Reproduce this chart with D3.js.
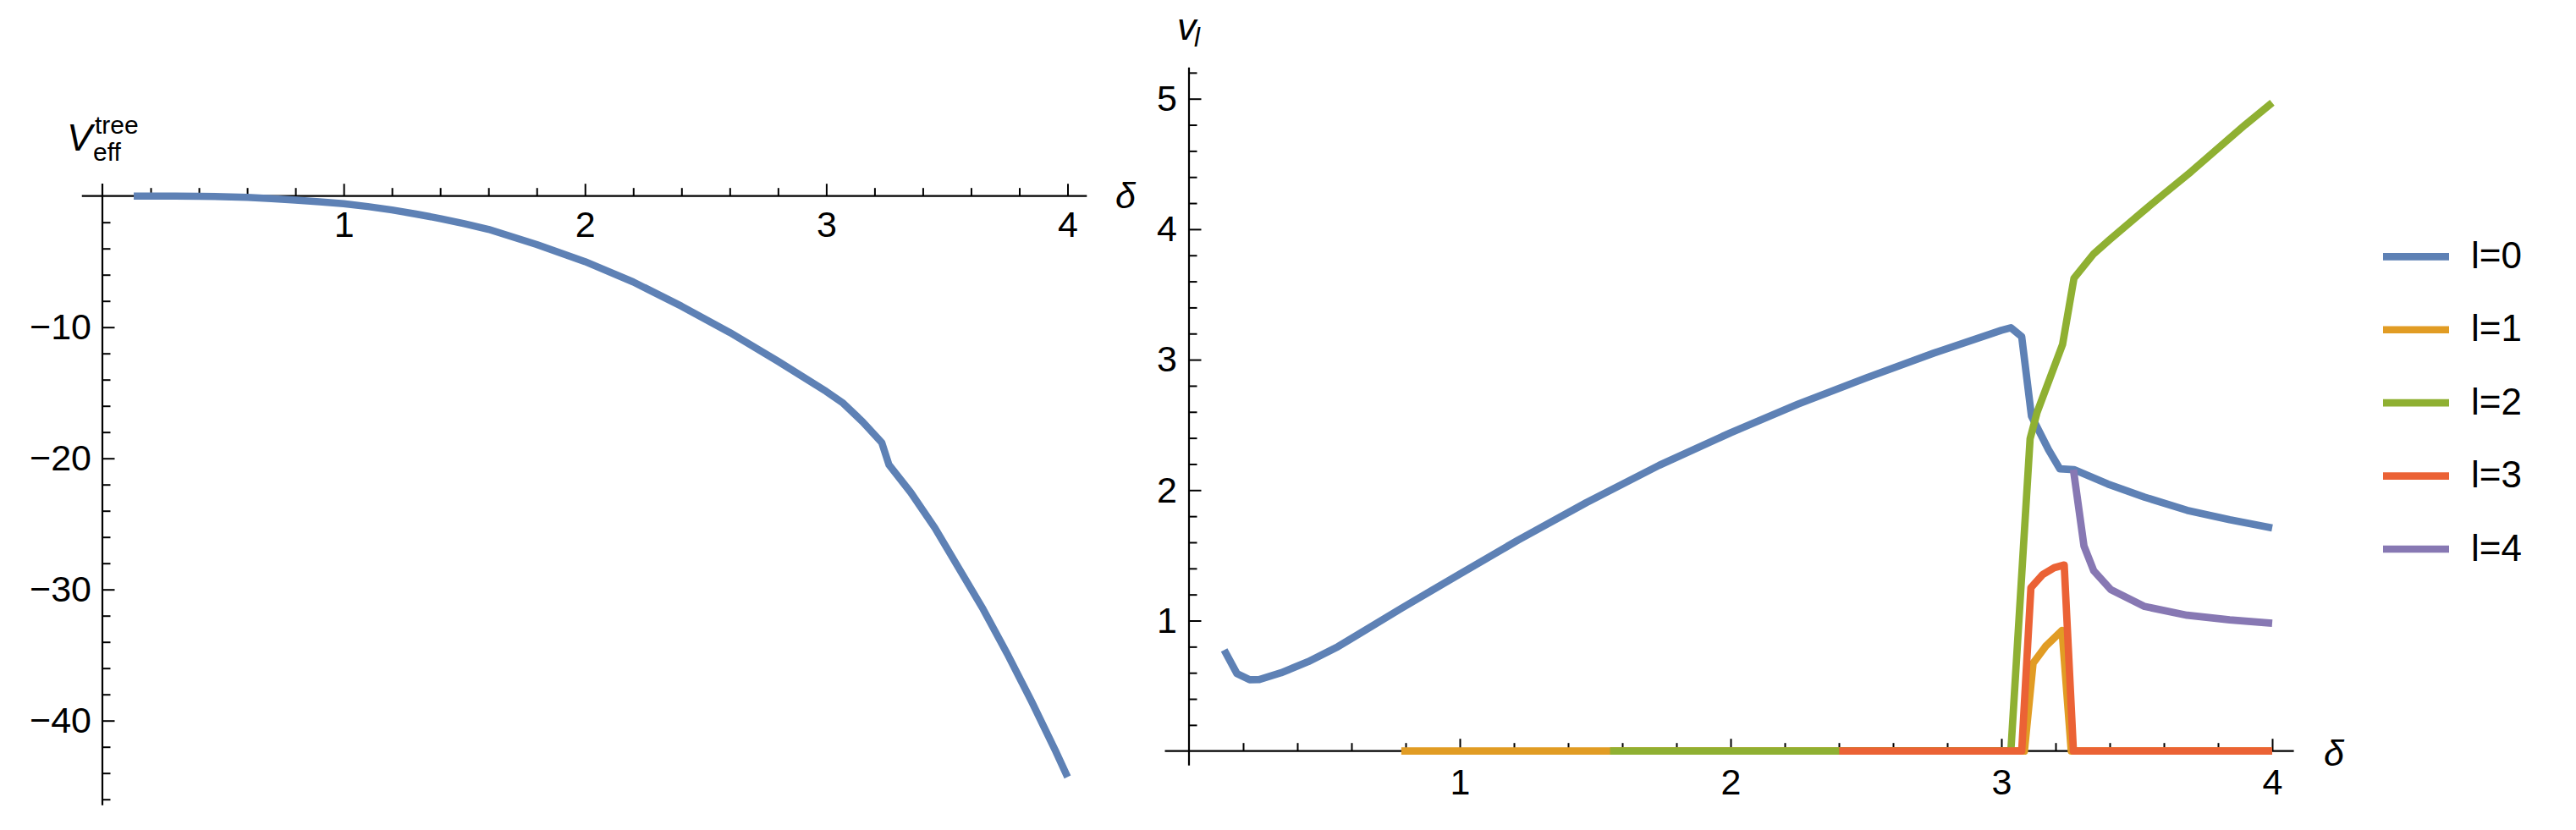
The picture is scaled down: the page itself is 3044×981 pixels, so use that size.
<!DOCTYPE html>
<html>
<head>
<meta charset="utf-8">
<script src="https://cdnjs.cloudflare.com/ajax/libs/d3/7.8.5/d3.min.js"></script>
<style>
body { margin: 0; background: #fff; }
text { font-family: "Liberation Sans", Arial, sans-serif; }
</style>
</head>
<body>
<script>
// left panel : V_eff^tree against delta
var treeDelta = [0.13, 0.2, 0.3, 0.4, 0.5, 0.6, 0.7, 0.8, 0.9, 1.0, 1.1, 1.2, 1.3, 1.4, 1.5, 1.6, 1.8, 2.0, 2.2, 2.4, 2.6, 2.8, 3.0, 3.07, 3.15, 3.23, 3.26, 3.35, 3.45, 3.55, 3.65, 3.75, 3.85, 3.95, 4.0]
var treeV = [0, -0.003, -0.01, -0.02, -0.05, -0.1, -0.19, -0.31, -0.44, -0.58, -0.8, -1.06, -1.37, -1.72, -2.11, -2.54, -3.7, -5.0, -6.55, -8.4, -10.4, -12.6, -14.9, -15.8, -17.2, -18.8, -20.5, -22.6, -25.3, -28.4, -31.5, -34.9, -38.5, -42.3, -44.3]

// right panel : v_l against delta, one series per l
var seriesNames = ["l=0", "l=1", "l=2", "l=3", "l=4"]
var seriesColors = ["#5E81B5", "#E19C24", "#8FB032", "#EB6235", "#8778B3"]

var l0Delta = [0.13, 0.177, 0.224, 0.26, 0.34, 0.44, 0.55, 0.65, 0.785, 0.9, 1.0, 1.216, 1.467, 1.736, 2.0, 2.25, 2.5, 2.75, 3.0, 3.035, 3.075, 3.111, 3.174, 3.216, 3.268, 3.393, 3.529, 3.686, 3.843, 4.0]
var l0V = [0.775, 0.594, 0.547, 0.548, 0.60, 0.685, 0.80, 0.925, 1.095, 1.235, 1.356, 1.618, 1.904, 2.19, 2.44, 2.66, 2.86, 3.05, 3.225, 3.245, 3.176, 2.568, 2.31, 2.163, 2.157, 2.047, 1.946, 1.845, 1.773, 1.71]

var l1Delta = [0.784, 3.085, 3.117, 3.164, 3.224, 3.258, 4.0]
var l1V = [0, 0, 0.674, 0.804, 0.925, 0, 0]

var l2Delta = [1.555, 3.035, 3.106, 3.132, 3.226, 3.268, 3.341, 3.4, 3.519, 3.6, 3.7, 3.8, 3.9, 4.0]
var l2V = [0, 0, 2.394, 2.597, 3.118, 3.624, 3.812, 3.92, 4.13, 4.27, 4.44, 4.62, 4.80, 4.97]

var l3Delta = [2.401, 3.075, 3.109, 3.153, 3.195, 3.232, 3.266, 4.0]
var l3V = [0, 0, 1.252, 1.354, 1.405, 1.426, 0, 0]

var l4Delta = [3.266, 3.305, 3.341, 3.404, 3.529, 3.686, 3.843, 4.0]
var l4V = [2.157, 1.571, 1.382, 1.238, 1.108, 1.041, 1.006, 0.98]

var xLabelsL = [1, 2, 3, 4]
var yLabelsL = [-10, -20, -30, -40]
var xLabelsR = [1, 2, 3, 4]
var yLabelsR = [1, 2, 3, 4, 5]

var svg = d3.select("body").append("svg")
	.attr("width", 3044)
	.attr("height", 981)

svg.append("rect").attr("width", 3044).attr("height", 981).attr("fill", "#fff")

function zip(xs, ys) {
	return xs.map(function(d, i) { return [d, ys[i]] })
}

function minors(lo, hi, step, major) {
	var out = []
	for (var i = Math.round(lo / step); i <= Math.round(hi / step); i++) {
		var v = +(i * step).toFixed(4)
		if (v != 0 && Math.abs(v / major - Math.round(v / major)) > 1e-6) out.push(v)
	}
	return out
}

var fmt = d3.format("d")

function drawAxes(g, x, y, o) {
	// axis lines
	g.append("line")
		.attr("x1", x(o.xLo)).attr("x2", x(o.xHi))
		.attr("y1", y(0)).attr("y2", y(0))
		.attr("stroke", "#000").attr("stroke-width", 2.2)
	g.append("line")
		.attr("x1", x(0)).attr("x2", x(0))
		.attr("y1", y(o.yLo)).attr("y2", y(o.yHi))
		.attr("stroke", "#000").attr("stroke-width", 2.2)

	g.append("g").attr("transform", "translate(0," + y(0) + ")")
		.call(d3.axisBottom(x).tickValues(o.xMinor).tickSize(-9.5).tickSizeOuter(0).tickFormat(""))
	g.append("g").attr("transform", "translate(0," + y(0) + ")")
		.call(d3.axisBottom(x).tickValues(o.xMajor).tickSize(-14.5).tickSizeOuter(0).tickPadding(o.padX).tickFormat(fmt))

	g.append("g").attr("transform", "translate(" + x(0) + ",0)")
		.call(d3.axisLeft(y).tickValues(o.yMinor).tickSize(-9.5).tickSizeOuter(0).tickFormat(""))
	g.append("g").attr("transform", "translate(" + x(0) + ",0)")
		.call(d3.axisLeft(y).tickValues(o.yMajor).tickSize(-14.5).tickSizeOuter(0).tickPadding(o.padY).tickFormat(fmt))

	g.selectAll(".domain").remove()
	g.selectAll(".tick line").attr("stroke-width", 2)
	g.selectAll(".tick text")
		.attr("font-size", 43)
		.attr("font-family", '"Liberation Sans", Arial, sans-serif')
		.attr("fill", "#000")
}

var line = d3.line()

// ---- left panel
var xL = d3.scaleLinear().domain([0, 4]).range([121, 1261.5])
var yL = d3.scaleLinear().domain([0, -40]).range([231.7, 851.7])
var left = svg.append("g")

drawAxes(left, xL, yL, {
	xLo: -0.085, xHi: 4.08, yLo: -46.45, yHi: 0.95,
	xMajor: xLabelsL, xMinor: minors(0.2, 4, 0.2, 1),
	yMajor: yLabelsL, yMinor: minors(-46, -2, 2, 10),
	padX: 18, padY: 13
})

left.append("path")
	.datum(zip(treeDelta, treeV).map(function(p) { return [xL(p[0]), yL(p[1])] }))
	.attr("d", line)
	.attr("fill", "none")
	.attr("stroke", seriesColors[0])
	.attr("stroke-width", 8.5)
	.attr("stroke-linejoin", "round")

left.append("text").attr("x", 79).attr("y", 178).attr("font-size", 45).attr("font-style", "italic").text("V")
left.append("text").attr("x", 112).attr("y", 158).attr("font-size", 30).text("tree")
left.append("text").attr("x", 110).attr("y", 190).attr("font-size", 30).text("eff")
left.append("text").attr("x", 1330).attr("y", 246).attr("font-size", 43).attr("font-style", "italic")
	.attr("text-anchor", "middle").text("δ")

// ---- right panel
var xR = d3.scaleLinear().domain([0, 4]).range([1405, 2685])
var yR = d3.scaleLinear().domain([0, 5]).range([887.7, 116.7])
var right = svg.append("g")

drawAxes(right, xR, yR, {
	xLo: -0.089, xHi: 4.08, yLo: -0.11, yHi: 5.24,
	xMajor: xLabelsR, xMinor: minors(0.2, 4, 0.2, 1),
	yMajor: yLabelsR, yMinor: minors(0.2, 5.2, 0.2, 1),
	padX: 21, padY: 14
})

var rightSeries = [zip(l0Delta, l0V), zip(l1Delta, l1V), zip(l2Delta, l2V), zip(l3Delta, l3V), zip(l4Delta, l4V)]

right.selectAll("path.series")
	.data(rightSeries)
	.enter().append("path")
	.attr("class", "series")
	.attr("d", function(d) { return line(d.map(function(p) { return [xR(p[0]), yR(p[1])] })) })
	.attr("fill", "none")
	.attr("stroke", function(d, i) { return seriesColors[i] })
	.attr("stroke-width", 8.7)
	.attr("stroke-linejoin", "round")

right.append("text").attr("x", 1391).attr("y", 47).attr("font-size", 45).attr("font-style", "italic").text("v")
right.append("text").attr("x", 1411).attr("y", 55).attr("font-size", 31).attr("font-style", "italic").text("l")
right.append("text").attr("x", 2758).attr("y", 905).attr("font-size", 43).attr("font-style", "italic")
	.attr("text-anchor", "middle").text("δ")

// ---- legend
var legend = svg.append("g")
var legY = d3.scaleLinear().domain([0, 4]).range([303.3, 649])

legend.selectAll("line")
	.data(seriesNames)
	.enter().append("line")
	.attr("x1", 2816).attr("x2", 2894)
	.attr("y1", function(d, i) { return legY(i) })
	.attr("y2", function(d, i) { return legY(i) })
	.attr("stroke", function(d, i) { return seriesColors[i] })
	.attr("stroke-width", 8.7)

legend.selectAll("text")
	.data(seriesNames)
	.enter().append("text")
	.attr("x", 2920)
	.attr("y", function(d, i) { return legY(i) + 13.5 })
	.attr("font-size", 44)
	.text(function(d) { return d })
</script>
</body>
</html>
